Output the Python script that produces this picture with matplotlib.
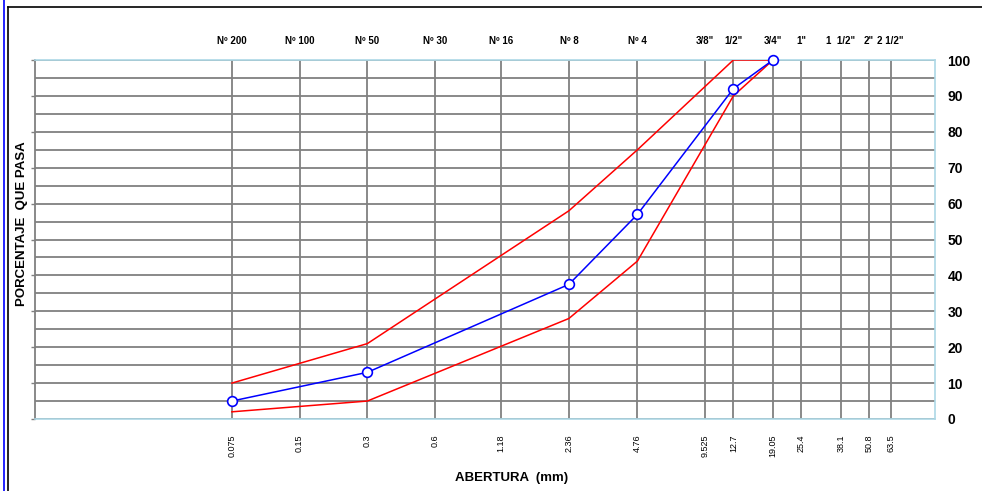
import matplotlib
matplotlib.use("Agg")
import matplotlib.pyplot as plt
from matplotlib.ticker import NullLocator, FixedLocator
from matplotlib.lines import Line2D

plt.rcParams['font.family'] = ['Liberation Sans', 'DejaVu Sans']

# sieve openings (mm) and names
sizes = [0.075, 0.15, 0.3, 0.6, 1.18, 2.36, 4.76, 9.525, 12.7, 19.05, 25.4, 38.1, 50.8, 63.5]
size_labels = ['0.075', '0.15', '0.3', '0.6', '1.18', '2.36', '4.76', '9.525', '12.7', '19.05', '25.4', '38.1', '50.8', '63.5']
sieve_names = ['Nº 200', 'Nº 100', 'Nº 50', 'Nº 30', 'Nº 16', 'Nº 8', 'Nº 4', '3/8"', '1/2"', '3/4"', '1"', '1  1/2"', '2"', '2 1/2"']

# grading curve of the sample
muestra_x = [0.075, 0.3, 2.36, 4.76, 12.7, 19.05]
muestra_y = [5, 13, 37.5, 57, 92, 100]

# specification limits
lim_x = [0.075, 0.3, 2.36, 4.76, 12.7, 19.05]
lim_sup = [10, 21, 58, 75, 100, 100]
lim_inf = [2, 5, 28, 44, 90, 100]

fig = plt.figure(figsize=(9.82, 4.91), dpi=100)
ax = fig.add_axes([35/982, 72/491, 900/982, 359/491])

ax.plot(lim_x, lim_sup, color='red', linewidth=1.1, zorder=3)
ax.plot(lim_x, lim_inf, color='red', linewidth=1.1, zorder=3)
ax.plot(muestra_x, muestra_y, color='blue', linewidth=1.1, marker='o',
        markersize=7, markerfacecolor='white', markeredgecolor='blue',
        markeredgewidth=1.2, zorder=4, clip_on=False)

ax.set_xscale('log')
ax.set_xlim(0.01, 100)
ax.set_ylim(0, 100)

ax.xaxis.set_major_locator(FixedLocator(sizes))
ax.xaxis.set_minor_locator(NullLocator())
ax.set_xticklabels(size_labels, rotation=90, fontsize=6.5)
ax.tick_params(axis='x', length=0, pad=11)

ax.set_yticks(range(0, 101, 10))
ax.set_yticks(range(5, 100, 10), minor=True)
ax.tick_params(axis='y', which='major', left=True, right=False, labelleft=False,
               labelright=True, length=3, width=1, color='#808080', labelsize=10, pad=6)
ax.tick_params(axis='y', which='minor', length=0)
for t in ax.get_yticklabels():
    t.set_fontweight('bold')

ax.grid(True, which='both', color='#808080', linewidth=1.3)
ax.set_axisbelow(True)

for s in ['top', 'right', 'bottom']:
    ax.spines[s].set_color('#add8e6')
    ax.spines[s].set_linewidth(1.2)
ax.spines['left'].set_color('#808080')
ax.spines['left'].set_linewidth(1.3)

top = ax.secondary_xaxis('top')
top.xaxis.set_major_locator(FixedLocator(sizes))
top.xaxis.set_minor_locator(NullLocator())
top.set_xticklabels(sieve_names, fontsize=7, fontweight='bold')
top.tick_params(axis='x', length=0, pad=10)
top.spines['top'].set_visible(False)

ax.set_xlabel('ABERTURA  (mm)', fontsize=9.5, fontweight='bold')
ax.xaxis.set_label_coords(0.53, -0.148)
ax.set_ylabel('PORCENTAJE  QUE PASA', fontsize=9.5, fontweight='bold')
ax.yaxis.set_label_coords(-0.0144, 0.545)
ax.yaxis.label.set_verticalalignment('center')

# outer frame
fig.add_artist(Line2D([4/982, 4/982], [0, 1], color='blue', linewidth=1.2, transform=fig.transFigure))
fig.add_artist(Line2D([8/982, 8/982], [0, 484/491], color='black', linewidth=1.2, transform=fig.transFigure))
fig.add_artist(Line2D([8/982, 1], [484/491, 484/491], color='black', linewidth=1.2, transform=fig.transFigure))

fig.savefig('out.png', dpi=100)
